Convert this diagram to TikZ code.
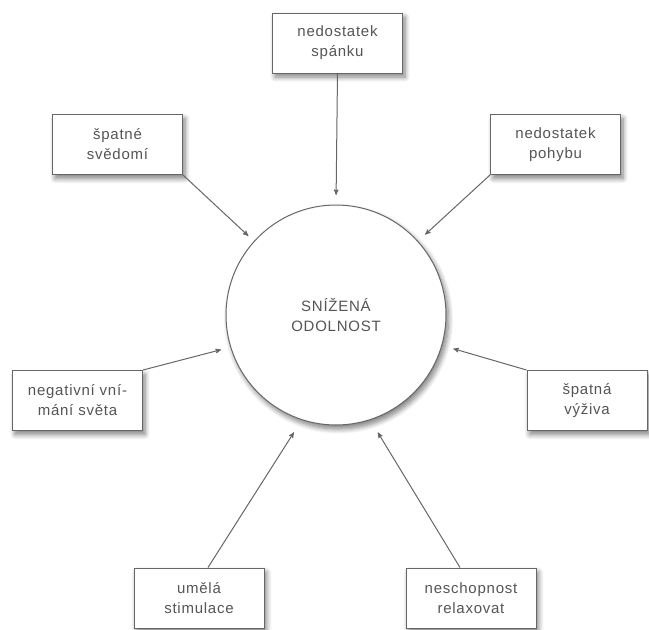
\documentclass[tikz,border=0pt]{standalone}
\usepackage{fontspec}
\setmainfont{Liberation Sans}[LetterSpace=5]
\usepackage{tikz}
\usetikzlibrary{arrows, positioning, shadows.blur}
\definecolor{linegray}{HTML}{666666}
\definecolor{textgray}{HTML}{555555}
\tikzset{
        >=stealth', % small filled arrow heads
        soft/.style={blur shadow={shadow xshift=2.5pt, shadow yshift=-4pt, shadow blur radius=5pt, shadow blur steps=8, shadow opacity=50}}, % grey shadow under shapes
    }
\tikzstyle{factor}=[draw=linegray,line width=1pt,fill=white,minimum width=130pt,minimum height=60pt,inner sep=0pt,align=center,soft]
\tikzstyle{hub}=[draw=linegray,line width=1pt,fill=white,circle,minimum size=220pt,inner sep=0pt,outer sep=0pt,align=center,soft]
\tikzstyle{influence}=[->,draw=linegray,line width=1pt]

\begin{document}
\begin{tikzpicture}[x=1pt,y=-1pt,font=\fontsize{15}{20}\selectfont,text=textgray]
    \useasboundingbox (0,0) rectangle (649,630);
    \node[hub] (odolnost) at (336,315) {SNÍŽENÁ\\ODOLNOST};

    \node[factor] (spanek) at (337.5,43) {nedostatek\\spánku};
    \node[factor] (svedomi) at (117.5,144.5) {špatné\\svědomí};
    \node[factor] (pohyb) at (555.5,144.5) {nedostatek\\pohybu};
    \node[factor] (vnimani) at (77.5,400.5) {negativní vní-\\mání světa};
    \node[factor,minimum width=120pt] (vyziva) at (587,400.5) {špatná\\výživa};
    \node[factor] (stimulace) at (199,598) {umělá\\stimulace};
    \node[factor] (relax) at (471,598) {neschopnost\\relaxovat};

    \draw[influence,shorten >=10pt] (spanek.south) -- (odolnost.90);
    \draw[influence,shorten >=8pt] (svedomi.south east) -- (odolnost.138);
    \draw[influence,shorten >=10pt] (pohyb.south west) -- (odolnost.42);
    \draw[influence,shorten >=10pt] (vnimani.north east) -- (odolnost.197);
    \draw[influence,shorten >=12pt] (vyziva.north west) -- (odolnost.344);
    \draw[influence,shorten >=15pt] ([xshift=9pt]stimulace.north) -- (odolnost.252);
    \draw[influence,shorten >=15pt] ([xshift=-11pt]relax.north) -- (odolnost.288);
\end{tikzpicture}
\end{document}
